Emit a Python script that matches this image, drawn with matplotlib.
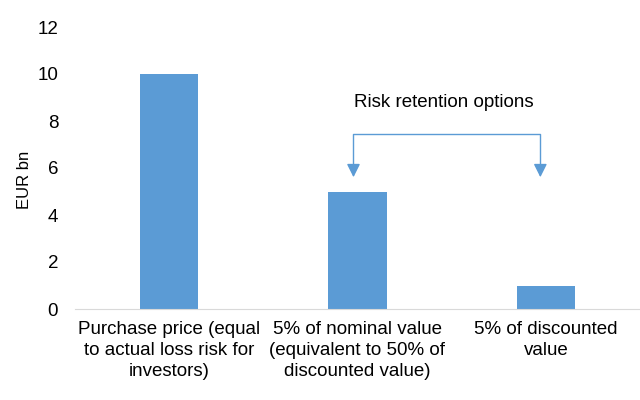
import matplotlib.pyplot as plt
import numpy as np

plt.rcParams['font.family'] = ['Liberation Sans', 'DejaVu Sans']

labels = ['Purchase price (equal\nto actual loss risk for\ninvestors)',
          '5% of nominal value\n(equivalent to 50% of\ndiscounted value)',
          '5% of discounted\nvalue']
values = [10, 5, 1]
blue = '#5B9BD5'

fig = plt.figure(figsize=(6.4, 4), dpi=100)
ax = fig.add_axes([0.117, 0.2275, 0.883, 0.705])

x = np.arange(len(values))
ax.bar(x, values, width=0.31, color=blue)
ax.set_xlim(-0.5, 2.5)
ax.set_ylim(0, 12)
ax.set_yticks(range(0, 13, 2))
ax.set_xticks(x)
ax.set_xticklabels(labels, fontsize=13.5, color='#000000', linespacing=1.28)
ax.tick_params(axis='y', labelsize=13.5, length=0, pad=12)
ax.tick_params(axis='x', length=0, pad=9)
ax.set_ylabel('EUR bn', fontsize=12)
ax.yaxis.set_label_coords(-0.076, 0.457)

for s in ['top', 'right', 'left']:
    ax.spines[s].set_visible(False)
ax.spines['bottom'].set_color('#D9D9D9')

# bracket with arrows
ax.plot([0.979, 0.979, 1.971, 1.971], [6.0, 7.45, 7.45, 6.0], color=blue, lw=1)
for xa in [0.979, 1.971]:
    ax.annotate('', xy=(xa, 5.49), xytext=(xa, 6.1),
                arrowprops=dict(arrowstyle='-|>', color=blue, lw=1, mutation_scale=20))
ax.text(1.46, 8.8, 'Risk retention options', ha='center', va='center', fontsize=13.5)

fig.savefig('out.png', dpi=100)
